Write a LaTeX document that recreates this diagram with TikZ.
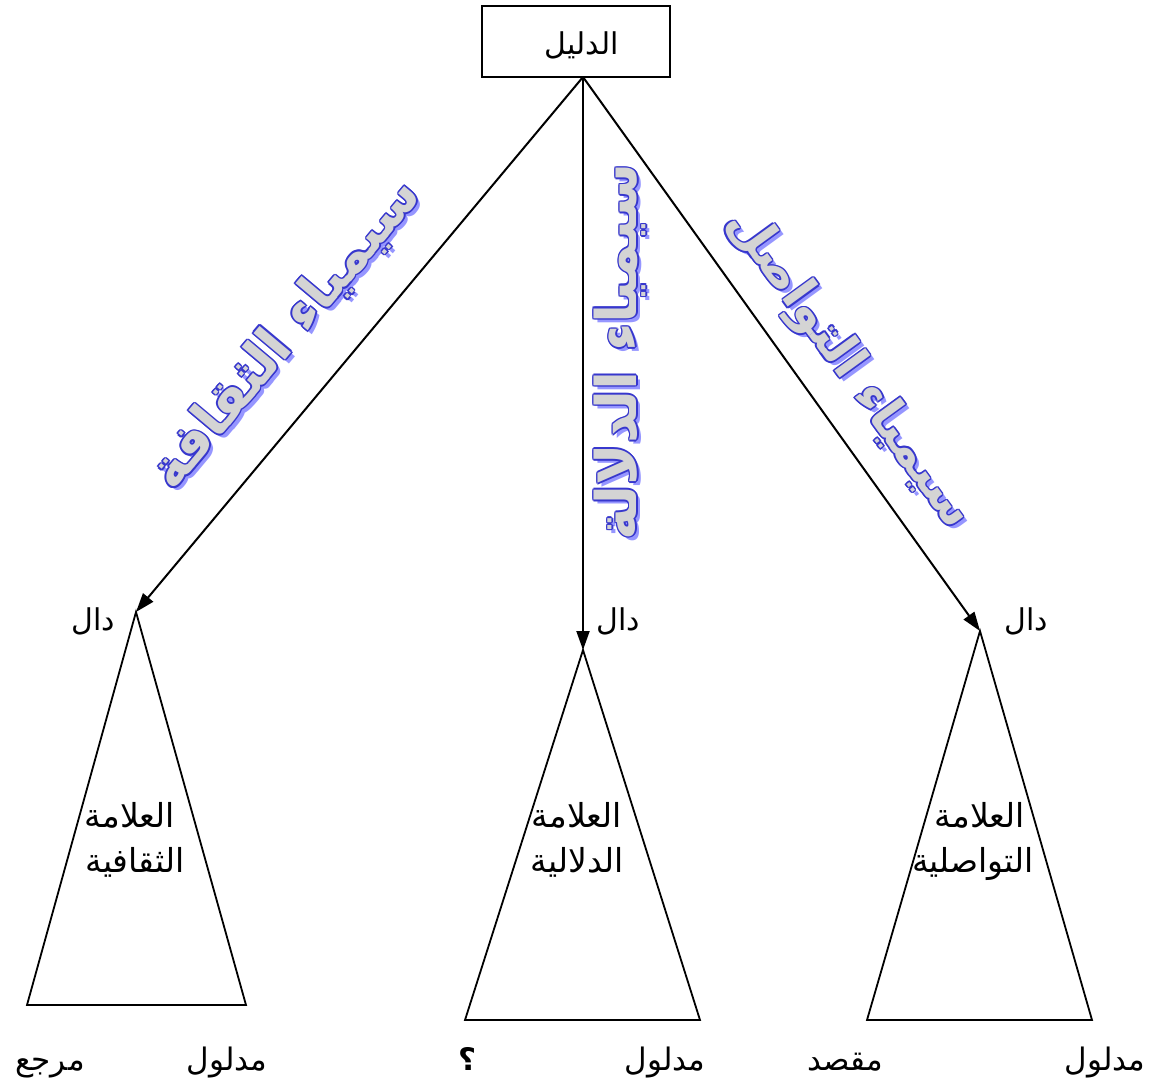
\documentclass[tikz,border=0pt]{standalone}
\usepackage{fontspec}
\usetikzlibrary{arrows.meta,calc}
\TeXXeTstate=1
\newfontfamily\arabicfont[Script=Arabic]{DejaVu Sans}
\newfontfamily\arabicbold[Script=Arabic]{DejaVu Sans Bold}
\definecolor{waBlue}{RGB}{55,55,205}
\definecolor{waShadow}{RGB}{150,150,255}
\definecolor{waGray}{RGB}{212,212,212}
\newcommand\wordart[5]{%
  \node[wa=#3, font=\arabicbold\fontsize{#4}{#4}\selectfont, text=waShadow] at ($#2+(4,4)$) {#5};
  \foreach \dx/\dy in {1.6/0,-1.6/0,0/1.6,0/-1.6,1.15/1.15,-1.15/1.15,1.15/-1.15,-1.15/-1.15}
    \node[wa=#3, font=\arabicbold\fontsize{#4}{#4}\selectfont, text=waBlue] at ($#2+(\dx,\dy)$) {#5};
  \node[wa=#3, font=\arabicbold\fontsize{#4}{#4}\selectfont, text=waGray] (#1) at #2 {#5};
}
\begin{document}
\begin{tikzpicture}[x=1pt,y=-1pt,
  lbl/.style={font=\arabicfont\fontsize{30}{34}\selectfont, inner sep=0pt, anchor=base},
  tlbl/.style={font=\arabicfont\fontsize{33}{36}\selectfont, inner sep=0pt, anchor=base},
  btm/.style={font=\arabicfont\fontsize{31}{34}\selectfont, inner sep=0pt, anchor=base},
  wa/.style={rotate=#1, inner sep=0pt},
  conn/.style={line width=2pt, -{Triangle[length=19pt,width=13pt]}},
  tri/.style={line width=1.8pt}]
\useasboundingbox (0,0) rectangle (1154,1088);
% root box
\node[draw, line width=2pt, minimum width=188pt, minimum height=71pt, inner sep=0pt] (root) at (576,41.5) {};
\node[lbl] (rootlbl) at (582,54) {\beginR الدليل\endR};
\coordinate (src) at (583,77);
% apexes
\coordinate (la) at (136,612);
\coordinate (ma) at (583,650);
\coordinate (ra) at (980,631);
\coordinate (lb1) at (27,1005); \coordinate (lb2) at (246,1005);
\coordinate (mb1) at (465,1020); \coordinate (mb2) at (700,1020);
\coordinate (rb1) at (867,1020); \coordinate (rb2) at (1092,1020);
% connectors
\draw[conn] (src) -- (la);
\draw[conn] (src) -- (ma);
\draw[conn] (src) -- (ra);
% triangles
\draw[tri] (la) -- (lb1) -- (lb2) -- cycle;
\draw[tri] (ma) -- (mb1) -- (mb2) -- cycle;
\draw[tri] (ra) -- (rb1) -- (rb2) -- cycle;
% dal labels
\node[lbl] (dl) at (93,630) {\beginR دال\endR};
\node[lbl] (dm) at (618,630) {\beginR دال\endR};
\node[lbl] (dr) at (1026,630) {\beginR دال\endR};
% triangle texts
\node[tlbl] (t1a) at (130,827) {\beginR العلامة\endR};
\node[tlbl] (t1b) at (135,872) {\beginR الثقافية\endR};
\node[tlbl] (t2a) at (577,827) {\beginR العلامة\endR};
\node[tlbl] (t2b) at (577,872) {\beginR الدلالية\endR};
\node[tlbl] (t3a) at (980,827) {\beginR العلامة\endR};
\node[tlbl] (t3b) at (973,872) {\beginR التواصلية\endR};
% bottom labels
\node[btm] (b1) at (50,1070) {\beginR مرجع\endR};
\node[btm] (b2) at (227,1070) {\beginR مدلول\endR};
\node[btm, font=\arabicbold\fontsize{31}{34}\selectfont] (b3) at (467,1070) {\beginR ؟\endR};
\node[btm] (b4) at (665,1070) {\beginR مدلول\endR};
\node[btm] (b5) at (845,1070) {\beginR مقصد\endR};
\node[btm] (b6) at (1105,1070) {\beginR مدلول\endR};
% word art
\wordart{wa1}{(286,334)}{50}{54}{\beginR سيمياء الثقافة\endR}
\wordart{wa2}{(620,352)}{90}{56}{\beginR سيمياء الدلالة\endR}
\wordart{wa3}{(849,369)}{-54}{50}{\beginR سيمياء التواصل\endR}
\end{tikzpicture}
\end{document}
